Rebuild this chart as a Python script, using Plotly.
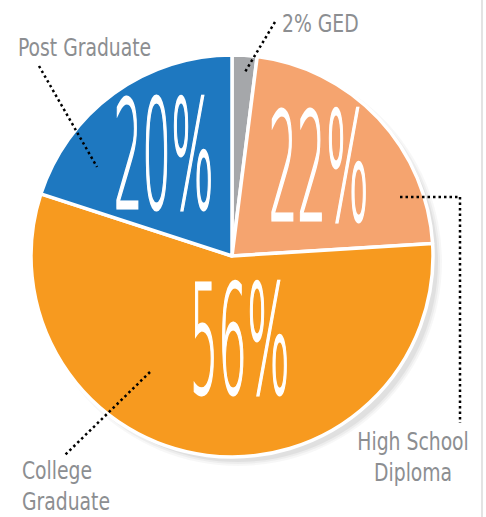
import json
import plotly.graph_objects as go

# ---- data ----
labels = ["GED", "High School Diploma", "College Graduate", "Post Graduate"]
values = [2, 22, 56, 20]
colors = ["#A5A7AA", "#F5A46F", "#F79A1F", "#1E78C0"]
big_text = ["", "22%", "56%", "20%"]
side_text = ["2% GED", "High School<br>Diploma", "College<br>Graduate", "Post Graduate"]

W, H = 486, 517

def px(x):
    return x / W

def py(y):
    return 1 - y / H

fig = go.Figure()
fig.add_trace(go.Pie(
    labels=labels,
    values=values,
    sort=False,
    direction="clockwise",
    rotation=0,
    marker=dict(colors=colors, line=dict(color="white", width=3.5)),
    textinfo="none",
    hoverinfo="skip",
    showlegend=False,
    domain=dict(x=[px(31), px(433)], y=[py(457), py(55)]),
))

FAMILY = "Liberation Sans Narrow, DejaVu Sans Condensed, sans-serif"
big_font = dict(family="DejaVu Sans, sans-serif", size=150, color="white", weight=200)
lab_font = dict(family=FAMILY, size=24, color="#8C8E91")

annos = []
origins = []
# big percentages
big_pos = {1: (318, 168), 2: (239, 341), 3: (163, 156)}
for i, (x, y) in big_pos.items():
    annos.append(dict(x=px(x), y=py(y), xref="paper", yref="paper", text=big_text[i],
                      showarrow=False, font=big_font, xanchor="center", yanchor="middle"))
    origins.append(["center", 0.30, 2.2])
# side labels
lab_specs = [
    (side_text[0], 280, 24, "left"),
    (side_text[1], 413, 457, "center"),
    (side_text[2], 20, 486, "left"),
    (side_text[3], 16, 48, "left"),
]
for txt, x, y, anc in lab_specs:
    annos.append(dict(x=px(x), y=py(y), xref="paper", yref="paper", text=txt, showarrow=False,
                      font=lab_font, xanchor=anc, yanchor="middle", align=anc))
    origins.append(["left center" if anc == "left" else "center", 0.87, 0])

dot = dict(color="black", width=2.5, dash="2.5px,3px")
segs = [
    ((39, 66), (97, 167)),
    ((275, 22), (245, 72)),
    ((400, 197), (460, 197)),
    ((460, 197), (460, 423)),
    ((150, 372), (65, 455)),
]
shapes = []
# soft shadow under the pie (towards lower right)
for k, op in enumerate([0.05, 0.04, 0.03]):
    r = 200 + 2 * k
    cx, cy = 238, 262
    shapes.append(dict(type="circle", xref="paper", yref="paper", layer="below",
                       x0=px(cx - r), x1=px(cx + r), y0=py(cy + r), y1=py(cy - r),
                       fillcolor="black", opacity=op, line=dict(width=0)))
for (x0, y0), (x1, y1) in segs:
    shapes.append(dict(type="line", xref="paper", yref="paper",
                       x0=px(x0), y0=py(y0), x1=px(x1), y1=py(y1), line=dot))
# right border line
shapes.append(dict(type="line", xref="paper", yref="paper", x0=px(482), x1=px(482), y0=0, y1=1,
                   line=dict(color="#E3E3E3", width=2)))

fig.update_layout(
    width=W, height=H,
    margin=dict(l=0, r=0, t=0, b=0),
    paper_bgcolor="white", plot_bgcolor="white",
    annotations=annos, shapes=shapes,
)

js = """
document.body.style.margin = '0';
var gd = document.getElementById('{plot_id}');
var ORIG = %s;
function squeeze(){
  gd.querySelectorAll('g.annotation').forEach(function(g){
    var i = parseInt(g.getAttribute('data-index'));
    var o = ORIG[i];
    if (!o) return;
    var t = g.querySelector('text.annotation-text');
    if (!t) return;
    t.style.transformBox = 'fill-box';
    t.style.transformOrigin = o[0];
    t.style.transform = 'scaleX(' + o[1] + ')';
    if (o[2] > 0) {
      t.style.stroke = 'white';
      t.style.strokeWidth = o[2] + 'px';
      t.style.vectorEffect = 'non-scaling-stroke';
      t.setAttribute('vector-effect', 'non-scaling-stroke');
    }
  });
}
squeeze();
gd.on && gd.on('plotly_afterplot', squeeze);
""" % json.dumps(origins)

fig.write_html("out.html", post_script=js, config={"displayModeBar": False})
